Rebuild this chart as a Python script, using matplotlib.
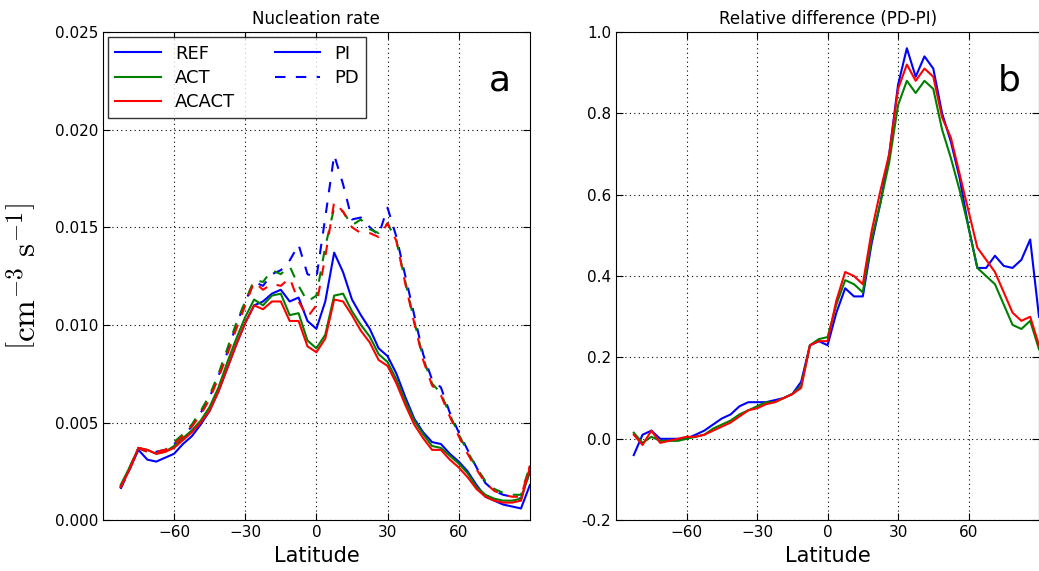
import numpy as np
import matplotlib
matplotlib.use("Agg")
import matplotlib.pyplot as plt

plt.rcParams["mathtext.fontset"] = "cm"

lat = np.arange(-82.5, 90.1, 3.75)

ref_pi = [.0017,.0026,.0036,.0031,.0030,.0032,.0034,.0039,.0043,.0049,
          .0056,.0066,.0078,.0090,.0101,.0110,.0112,.0116,.0118,.0112,
          .0114,.0102,.0098,.0112,.0137,.0127,.0113,.0105,.0098,.0088,
          .0084,.0075,.0063,.0052,.0045,.0040,.0039,.0034,.0030,.0025,
          .0018,.0012,.0010,.0008,.0007,.0006,.0018]
act_pi = [.0018,.0027,.0037,.0036,.0034,.0035,.0038,.0042,.0046,.0051,
          .0058,.0068,.0081,.0093,.0104,.0113,.0110,.0115,.0116,.0105,
          .0106,.0092,.0088,.0095,.0115,.0116,.0107,.0100,.0094,.0085,
          .0081,.0072,.0061,.0051,.0044,.0038,.0037,.0033,.0029,.0024,
          .0017,.0013,.0011,.0010,.0010,.0011,.0025]
acact_pi = [.0017,.0026,.0037,.0036,.0034,.0035,.0037,.0041,.0045,.0050,
            .0056,.0066,.0078,.0090,.0101,.0110,.0108,.0112,.0112,.0102,
            .0102,.0089,.0086,.0093,.0113,.0112,.0105,.0097,.0091,.0082,
            .0079,.0070,.0059,.0049,.0042,.0036,.0036,.0031,.0027,.0022,
            .0016,.0012,.0010,.0009,.0009,.0010,.0027]
ref_pd = [.0016,.0026,.0037,.0035,.0035,.0036,.0039,.0043,.0048,.0055,
          .0063,.0074,.0086,.0100,.0112,.0122,.0120,.0126,.0128,.0133,
          .0141,.0126,.0124,.0155,.0187,.0172,.0154,.0155,.0150,.0146,
          .0160,.0145,.0125,.0105,.0085,.0072,.0068,.0055,.0045,.0036,
          .0027,.0019,.0015,.0013,.0012,.0011,.0025]
act_pd = [.0017,.0027,.0037,.0035,.0035,.0036,.0040,.0044,.0049,.0056,
          .0064,.0075,.0088,.0101,.0112,.0123,.0122,.0128,.0126,.0130,
          .0120,.0112,.0115,.0140,.0160,.0158,.0151,.0154,.0149,.0147,
          .0152,.0143,.0122,.0102,.0083,.0070,.0065,.0054,.0044,.0035,
          .0027,.0020,.0016,.0014,.0013,.0013,.0028]
acact_pd = [.0017,.0026,.0037,.0035,.0035,.0036,.0039,.0043,.0048,.0054,
            .0062,.0073,.0085,.0098,.0110,.0122,.0118,.0121,.0120,.0124,
            .0112,.0104,.0110,.0135,.0163,.0158,.0150,.0147,.0147,.0145,
            .0152,.0143,.0121,.0101,.0082,.0069,.0064,.0053,.0043,.0034,
            .0026,.0019,.0015,.0013,.0012,.0012,.0028]

ref_rel = [-0.04,0.01,0.02,0.00,0.00,0.00,0.00,0.01,0.02,0.035,
           0.05,0.06,0.08,0.09,0.09,0.09,0.095,0.10,0.11,0.14,
           0.23,0.24,0.23,0.31,0.37,0.35,0.35,0.48,0.58,0.70,
           0.87,0.96,0.89,0.94,0.91,0.80,0.73,0.64,0.52,0.42,
           0.42,0.45,0.425,0.42,0.44,0.49,0.30]
act_rel = [0.015,-0.01,0.005,-0.005,-0.005,-0.005,0.00,0.005,0.01,0.025,
           0.035,0.045,0.06,0.07,0.08,0.09,0.09,0.10,0.11,0.13,
           0.23,0.245,0.25,0.33,0.39,0.38,0.36,0.49,0.58,0.68,
           0.82,0.88,0.85,0.88,0.86,0.76,0.69,0.61,0.52,0.42,
           0.40,0.38,0.33,0.28,0.27,0.29,0.22]
acact_rel = [0.01,-0.015,0.02,-0.01,-0.005,0.00,0.005,0.005,0.01,0.02,
             0.03,0.04,0.055,0.07,0.075,0.085,0.09,0.10,0.11,0.125,
             0.23,0.24,0.24,0.34,0.41,0.40,0.38,0.51,0.61,0.70,
             0.86,0.92,0.88,0.91,0.89,0.79,0.74,0.65,0.56,0.47,
             0.44,0.41,0.36,0.31,0.29,0.30,0.23]

colors = ["blue", "green", "red"]
names = ["REF", "ACT", "ACACT"]
xticks = [-60, -30, 0, 30, 60]

fig = plt.figure(figsize=(10.39, 5.71), dpi=100)
ax1 = fig.add_axes([0.099, 0.089, 0.411, 0.855])
ax2 = fig.add_axes([0.593, 0.089, 0.407, 0.855])

for pi, pd, c, n in zip([ref_pi, act_pi, acact_pi], [ref_pd, act_pd, acact_pd], colors, names):
    ax1.plot(lat, pi, color=c, lw=1.5, label=n)
    ax1.plot(lat, pd, color=c, lw=1.5, ls=(0, (5, 5)))
for rel, c in zip([ref_rel, act_rel, acact_rel], colors):
    ax2.plot(lat, rel, color=c, lw=1.5)

# legend: models + PI/PD line styles
h = ax1.get_lines()
extra = [plt.Line2D([], [], color="blue", lw=1.5),
         plt.Line2D([], [], color="blue", lw=1.5, ls=(0, (5, 5)))]
ax1.legend([h[0], h[2], h[4]] + extra, names + ["PI", "PD"], ncol=2, loc="upper left",
           fontsize=13, fancybox=False, edgecolor="black", handlelength=2.5,
           columnspacing=2.2, borderaxespad=0.3, labelspacing=0.35)

ax1.set_ylim(0, 0.025)
ax1.set_yticks(np.arange(0, 0.0251, 0.005))
ax1.set_yticklabels(["%.3f" % v for v in np.arange(0, 0.0251, 0.005)])
ax2.set_ylim(-0.2, 1.0)
ax2.set_yticks(np.arange(-0.2, 1.01, 0.2))
ax2.set_yticklabels(["%.1f" % v for v in np.arange(-0.2, 1.01, 0.2)])

for ax, title, letter in [(ax1, "Nucleation rate", "a"), (ax2, "Relative difference (PD-PI)", "b")]:
    ax.set_xlim(-90, 90)
    ax.set_xticks(xticks)
    ax.set_xticklabels([str(t).replace("-", "\u2212") for t in xticks])
    ax.grid(True, ls=(0, (1, 3)), color="black", lw=0.8)
    ax.tick_params(direction="in", labelsize=11, length=5, top=True, right=True)
    ax.set_xlabel("Latitude", fontsize=15)
    ax.set_title(title, fontsize=12)
    ax.text(0.93, 0.9, letter, transform=ax.transAxes, fontsize=26, ha="center", va="center")

ax1.set_ylabel(r"$\left[\mathrm{cm}^{-3}\ \mathrm{s}^{-1}\right]$", fontsize=24, labelpad=8)

fig.savefig("out.png", dpi=100)
